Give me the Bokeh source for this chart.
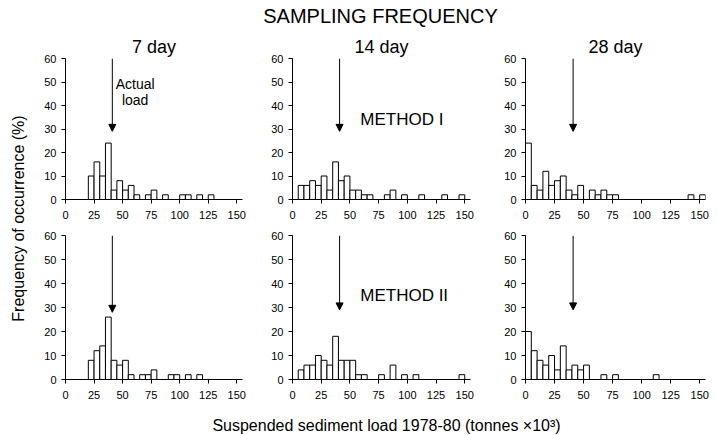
import math
from bokeh.plotting import figure
from bokeh.layouts import row, column
from bokeh.models import Range1d, Arrow, NormalHead, Label, Title, FixedTicker
from bokeh.core.properties import value
from bokeh.embed import file_html
from bokeh.resources import INLINE

FONT = "Liberation Sans"
BIN_WIDTH = 5
ACTUAL_LOAD = 41
X_TICKS = [0, 25, 50, 75, 100, 125, 150]
Y_TICKS = [0, 10, 20, 30, 40, 50, 60]

# Method I (bin left edge, frequency %)
m1_7_left = [20, 25, 30, 35, 40, 45, 50, 55, 60, 70, 75, 85, 100, 105, 115, 125]
m1_7_freq = [10, 16, 10, 24, 4, 8, 4, 6, 2, 2, 4, 2, 2, 2, 2, 2]
m1_14_left = [5, 10, 15, 20, 25, 30, 35, 40, 45, 50, 55, 60, 65, 80, 85, 95, 110, 130, 145]
m1_14_freq = [6, 6, 8, 6, 10, 4, 16, 8, 10, 4, 4, 2, 2, 2, 4, 2, 2, 2, 2]
m1_28_left = [0, 5, 10, 15, 20, 25, 30, 35, 40, 45, 55, 60, 65, 70, 75, 140, 150]
m1_28_freq = [24, 6, 4, 12, 6, 8, 10, 4, 2, 6, 4, 2, 4, 2, 2, 2, 2]
# Method II
m2_7_left = [20, 25, 30, 35, 40, 45, 50, 55, 65, 70, 75, 90, 95, 105, 115]
m2_7_freq = [8, 12, 14, 26, 8, 6, 8, 2, 2, 2, 4, 2, 2, 2, 2]
m2_14_left = [5, 10, 15, 20, 25, 30, 35, 40, 45, 50, 55, 60, 75, 85, 95, 105, 145]
m2_14_freq = [4, 6, 6, 10, 8, 6, 18, 8, 8, 8, 2, 2, 2, 6, 2, 2, 2]
m2_28_left = [0, 5, 10, 15, 20, 25, 30, 35, 40, 45, 50, 65, 75, 110]
m2_28_freq = [20, 12, 8, 6, 10, 4, 14, 4, 6, 4, 6, 2, 2, 2]

col_titles = ["7 day", "14 day", "28 day"]
main_title = "SAMPLING FREQUENCY"
y_label = "Frequency of occurrence (%)"
x_label = "Suspended sediment load 1978-80 (tonnes \u00d710\u00b3)"

W, H = 717, 435
HEADER_H, FOOTER_H, SIDE_W = 28, 29, 30
COLS = [  # width, border_left, border_right, title offset
    (225, 35, 13, 3),
    (230, 37, 15, 6),
    (232, 40, 12, 8),
]
ROWS = [  # height, border_top, border_bottom
    (197, 30, 26),
    (181, 10, 27),
]


def strip(width, height):
    s = figure(width=width, height=height, x_range=Range1d(0, width), y_range=Range1d(0, height),
               output_backend="svg", toolbar_location=None,
               min_border_left=0, min_border_right=0, min_border_top=0, min_border_bottom=0,
               background_fill_color="white", border_fill_color="white")
    s.axis.visible = False
    s.grid.visible = False
    s.outline_line_color = None
    return s


def panel(lefts, freqs, ci, ri, arrow_tip):
    w, bl, br, _ = COLS[ci]
    h, bt, bb = ROWS[ri]
    p = figure(width=w, height=h, x_range=Range1d(0, 155), y_range=Range1d(0, 60),
               output_backend="svg", toolbar_location=None,
               min_border_left=bl, min_border_right=br,
               min_border_top=bt, min_border_bottom=bb,
               background_fill_color="white", border_fill_color="white")
    p.outline_line_color = None
    p.grid.visible = False
    p.quad(left=lefts, right=[l + BIN_WIDTH for l in lefts], bottom=0, top=freqs,
           fill_color="white", line_color="black", line_width=1)
    p.xaxis.ticker = FixedTicker(ticks=X_TICKS)
    p.yaxis.ticker = FixedTicker(ticks=Y_TICKS)
    for ax in (p.xaxis, p.yaxis):
        ax.minor_tick_line_color = None
        ax.major_tick_out = 4
        ax.major_tick_in = 0
        ax.axis_line_color = "black"
        ax.major_tick_line_color = "black"
        ax.major_label_text_font = FONT
        ax.major_label_text_font_size = "11px"
        ax.major_label_text_color = "black"
    p.xaxis.major_label_standoff = 7
    p.yaxis.major_label_standoff = 5
    p.add_layout(Arrow(end=NormalHead(size=7, fill_color="black", line_color="black"),
                       x_start=ACTUAL_LOAD, y_start=60, x_end=ACTUAL_LOAD, y_end=arrow_tip,
                       line_color="black", line_width=1))
    return p


t1 = panel(m1_7_left, m1_7_freq, 0, 0, 29)
t2 = panel(m1_14_left, m1_14_freq, 1, 0, 29)
t3 = panel(m1_28_left, m1_28_freq, 2, 0, 29)
b1 = panel(m2_7_left, m2_7_freq, 0, 1, 28)
b2 = panel(m2_14_left, m2_14_freq, 1, 1, 29)
b3 = panel(m2_28_left, m2_28_freq, 2, 1, 29)

for ci, (p, t) in enumerate(zip((t1, t2, t3), col_titles)):
    p.add_layout(Title(text=t, align="center", offset=COLS[ci][3], text_font=FONT,
                       text_font_size="18px", text_font_style="normal",
                       text_color="black", standoff=4), "above")

t1.add_layout(Label(x=61, y=49, text="Actual", text_align="center", text_baseline="middle",
                    text_font=FONT, text_font_size="14px", text_color="black"))
t1.add_layout(Label(x=61, y=42.5, text="load", text_align="center", text_baseline="middle",
                    text_font=FONT, text_font_size="14px", text_color="black"))
t2.add_layout(Label(x=59, y=34, text="METHOD I", text_align="left", text_baseline="middle",
                    text_font=FONT, text_font_size="17px", text_color="black"))
b2.add_layout(Label(x=59, y=35, text="METHOD II", text_align="left", text_baseline="middle",
                    text_font=FONT, text_font_size="17px", text_color="black"))

# header strip: overall title
header = strip(W, HEADER_H)
header.text(x=[380], y=[HEADER_H - 15], text=[main_title], text_align="center",
            text_baseline="middle", text_font=value(FONT), text_font_size="20px",
            text_color="black")

# footer strip: shared x-axis label
footer = strip(W, FOOTER_H)
footer.text(x=[386], y=[FOOTER_H - 19], text=[x_label], text_align="center",
            text_baseline="middle", text_font=value(FONT), text_font_size="16px",
            text_color="black")

# left strip: shared y-axis label
side_h = ROWS[0][0] + ROWS[1][0]
side = strip(SIDE_W, side_h)
side.text(x=[18], y=[side_h - (218 - HEADER_H)], text=[y_label], angle=math.pi / 2,
          text_align="center", text_baseline="middle", text_font=value(FONT),
          text_font_size="16px", text_color="black")

layout = column(header,
                row(side, column(row(t1, t2, t3), row(b1, b2, b3))),
                footer)

open("out.html", "w").write(file_html(layout, INLINE))
